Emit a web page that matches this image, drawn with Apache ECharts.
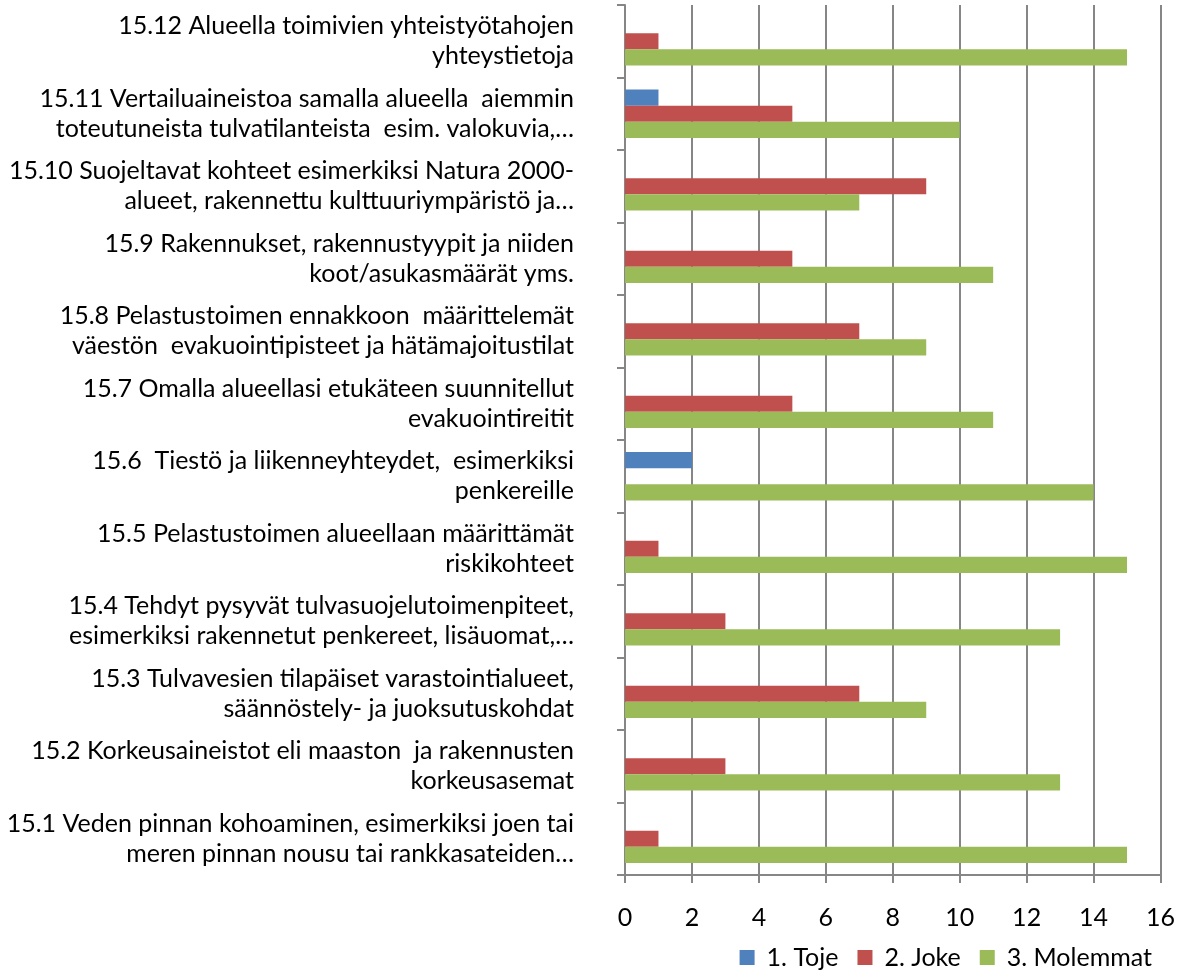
<!DOCTYPE html>
<html>
<head>
<meta charset="UTF-8">
<title>Aineistot</title>
<script src="https://cdn.jsdelivr.net/npm/echarts@6/dist/echarts.min.js"></script>
<style>
  body { margin: 0; background: #fff; }
  #chart { width: 1178px; height: 972px; }
</style>
</head>
<body>
<div id="chart"></div>
<script>
// kategoriat alhaalta ylös (15.1 alimpana)
const categories = [
  '15.1 Veden pinnan kohoaminen, esimerkiksi joen tai\nmeren pinnan nousu tai rankkasateiden…',
  '15.2 Korkeusaineistot eli maaston  ja rakennusten\nkorkeusasemat',
  '15.3 Tulvavesien tilapäiset varastointialueet,\nsäännöstely- ja juoksutuskohdat',
  '15.4 Tehdyt pysyvät tulvasuojelutoimenpiteet,\nesimerkiksi rakennetut penkereet, lisäuomat,…',
  '15.5 Pelastustoimen alueellaan määrittämät\nriskikohteet',
  '15.6  Tiestö ja liikenneyhteydet,  esimerkiksi\npenkereille',
  '15.7 Omalla alueellasi etukäteen suunnitellut\nevakuointireitit',
  '15.8 Pelastustoimen ennakkoon  määrittelemät\nväestön  evakuointipisteet ja hätämajoitustilat',
  '15.9 Rakennukset, rakennustyypit ja niiden\nkoot/asukasmäärät yms.',
  '15.10 Suojeltavat kohteet esimerkiksi Natura 2000-\nalueet, rakennettu kulttuuriympäristö ja…',
  '15.11 Vertailuaineistoa samalla alueella  aiemmin\ntoteutuneista tulvatilanteista  esim. valokuvia,…',
  '15.12 Alueella toimivien yhteistyötahojen\nyhteystietoja'
];
const toje     = [0, 0, 0, 0, 0, 2, 0, 0, 0, 0, 1, 0];
const joke     = [1, 3, 7, 3, 1, 0, 5, 7, 5, 9, 5, 1];
const molemmat = [15, 13, 9, 13, 15, 14, 11, 9, 11, 7, 10, 15];
const seriesNames = ['1. Toje', '2. Joke', '3. Molemmat'];
const xTicks = [0, 16, 2];  // min, max, interval

const FONT = "Lato, 'Noto Sans', sans-serif";
const chart = echarts.init(document.getElementById('chart'));

chart.setOption({
  animation: false,
  backgroundColor: '#fff',
  color: ['#4F81BD', '#C0504D', '#9BBB59'],
  grid: { left: 625, right: 17, top: 5, bottom: 97 },
  legend: {
    data: seriesNames,
    right: 21, top: 940,
    itemWidth: 15, itemHeight: 15, itemGap: 19,
    icon: 'rect',
    textStyle: { fontFamily: FONT, fontSize: 25, color: '#000', padding: [0, 0, 0, 7] }
  },
  xAxis: {
    type: 'value',
    min: xTicks[0], max: xTicks[1], interval: xTicks[2],
    axisLine: { show: true, lineStyle: { color: '#868686', width: 2 } },
    axisTick: { show: true, length: 8, lineStyle: { color: '#868686', width: 2 } },
    splitLine: { show: true, lineStyle: { color: '#868686', width: 2 } },
    axisLabel: { fontFamily: FONT, fontSize: 25, color: '#000', margin: 30 }
  },
  yAxis: {
    type: 'category',
    data: categories,
    axisLine: { show: true, lineStyle: { color: '#868686', width: 2 } },
    axisTick: { show: true, length: 8, lineStyle: { color: '#868686', width: 2 } },
    axisLabel: { fontFamily: FONT, fontSize: 25, color: '#000', margin: 51,
                 align: 'right', lineHeight: 30 }
  },
  series: [
    { name: seriesNames[0], type: 'bar', data: toje, barGap: '0%', barCategoryGap: '33%' },
    { name: seriesNames[1], type: 'bar', data: joke, barGap: '0%', barCategoryGap: '33%' },
    { name: seriesNames[2], type: 'bar', data: molemmat, barGap: '0%', barCategoryGap: '33%' }
  ]
});
</script>
</body>
</html>
